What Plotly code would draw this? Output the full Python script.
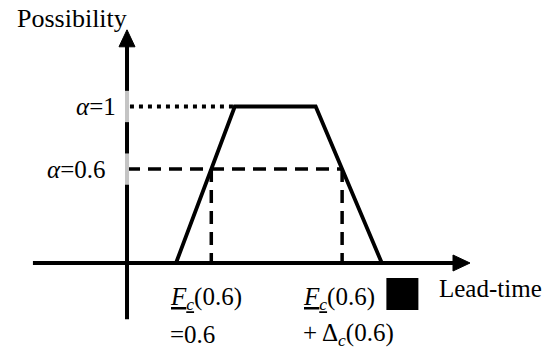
import plotly.graph_objects as go

# ---- data ----
trap_x = [1.0, 2.2, 3.85, 5.2]      # lead-time at trapezoid vertices
trap_y = [0.0, 1.0, 1.0, 0.0]       # possibility at vertices
alpha_levels = [1.0, 0.6]
alpha_labels = ["<i>α</i>=1", "<i>α</i>=0.6"]
alpha_label_shift = [-9, -20]
cut_alpha = 0.6
x_axis_extent = [-1.92, 7.0]
y_axis_extent = [-0.36, 1.49]
x_range = [-2.592, 8.714]
y_range = [-0.5623, 1.6805]
y_title = "Possibility"
x_title = "Lead-time"
left_label = ["<u><i>F</i><sub><i>c</i></sub></u>(0.6)", "=0.6"]
right_label = ["<u><i>F</i><sub><i>c</i></sub></u>(0.6)", "+ Δ<sub><i>c</i></sub>(0.6)"]

a, b, c, d = trap_x
left_cut = a + cut_alpha * (b - a)
right_cut = d - cut_alpha * (d - c)

W, H = 554, 351
sx = W / (x_range[1] - x_range[0])   # px per x unit
sy = H / (y_range[1] - y_range[0])   # px per y unit

FONT = "Times New Roman, Liberation Serif, serif"
FS = 25
fig = go.Figure()

# trapezoid
fig.add_trace(go.Scatter(x=trap_x, y=trap_y, mode="lines",
                         line=dict(color="black", width=3.8), hoverinfo="skip"))
# alpha = 1 dotted
fig.add_trace(go.Scatter(x=[0.06, b], y=[alpha_levels[0]] * 2, mode="lines",
                         line=dict(color="black", width=4, dash="4px,5px"), hoverinfo="skip"))
# alpha = 0.6 dashed
fig.add_trace(go.Scatter(x=[0, right_cut], y=[cut_alpha] * 2, mode="lines",
                         line=dict(color="black", width=3.5, dash="13px,8px"), hoverinfo="skip"))
for xc in [left_cut, right_cut]:
    fig.add_trace(go.Scatter(x=[xc, xc], y=[cut_alpha, 0], mode="lines",
                             line=dict(color="black", width=3.5, dash="13px,8px"), hoverinfo="skip"))
# black square
fig.add_trace(go.Scatter(x=[right_cut + 1.23], y=[-0.198], mode="markers",
                         marker=dict(symbol="square", size=32, color="black"), hoverinfo="skip"))

shapes = []
# axes
head_len, head_half = 17, 8
shapes.append(dict(type="line", xref="x", yref="y", x0=x_axis_extent[0], x1=x_axis_extent[1] - head_len / sx * 0.6,
                   y0=0, y1=0, line=dict(color="black", width=4)))
shapes.append(dict(type="line", xref="x", yref="y", x0=0, x1=0, y0=y_axis_extent[0],
                   y1=y_axis_extent[1] - head_len / sy * 0.6, line=dict(color="black", width=4)))
xt = x_axis_extent[1]
shapes.append(dict(type="path", xref="x", yref="y",
                   path=f"M {xt - head_len / sx},{head_half / sy} L {xt},0 L {xt - head_len / sx},{-head_half / sy} Z",
                   fillcolor="black", line=dict(color="black", width=1)))
yt = y_axis_extent[1]
shapes.append(dict(type="path", xref="x", yref="y",
                   path=f"M {-head_half / sx},{yt - head_len / sy} L 0,{yt} L {head_half / sx},{yt - head_len / sy} Z",
                   fillcolor="black", line=dict(color="black", width=1)))
for lv in alpha_levels:
    shapes.append(dict(type="line", xref="x", yref="y", x0=0, x1=0, y0=lv - 0.1, y1=lv + 0.1,
                       line=dict(color="#c4c4c4", width=4), layer="above"))

annotations = []
for lv, lab, sh in zip(alpha_levels, alpha_labels, alpha_label_shift):
    annotations.append(dict(x=0, y=lv, xref="x", yref="y", text=lab, showarrow=False,
                            xanchor="right", yanchor="middle", xshift=sh,
                            font=dict(family=FONT, size=FS, color="black")))

annotations.append(dict(x=0, y=1.565, xref="x", yref="y", text=y_title, showarrow=False,
                        xanchor="right", yanchor="middle", xshift=2,
                        font=dict(family=FONT, size=FS + 1, color="black")))
annotations.append(dict(x=6.33, y=-0.16, xref="x", yref="y", text=x_title, showarrow=False,
                        xanchor="left", yanchor="middle",
                        font=dict(family=FONT, size=FS, color="black")))

for xc, lines, shift in [(left_cut, left_label, -43), (right_cut, right_label, -41)]:
    for txt, yv in zip(lines, [-0.224, -0.46]):
        annotations.append(dict(x=xc, y=yv, xref="x", yref="y", text=txt, showarrow=False,
                                xanchor="left", yanchor="middle", xshift=shift,
                                font=dict(family=FONT, size=FS, color="black")))

fig.update_layout(
    width=W, height=H,
    margin=dict(l=0, r=0, t=0, b=0),
    paper_bgcolor="white", plot_bgcolor="white",
    showlegend=False, hovermode=False,
    xaxis=dict(range=x_range, visible=False, fixedrange=True),
    yaxis=dict(range=y_range, visible=False, fixedrange=True),
    annotations=annotations, shapes=shapes,
)
fig.write_html("out.html", config={"displayModeBar": False},
               post_script="document.body.style.margin='0';document.body.style.padding='0';")
